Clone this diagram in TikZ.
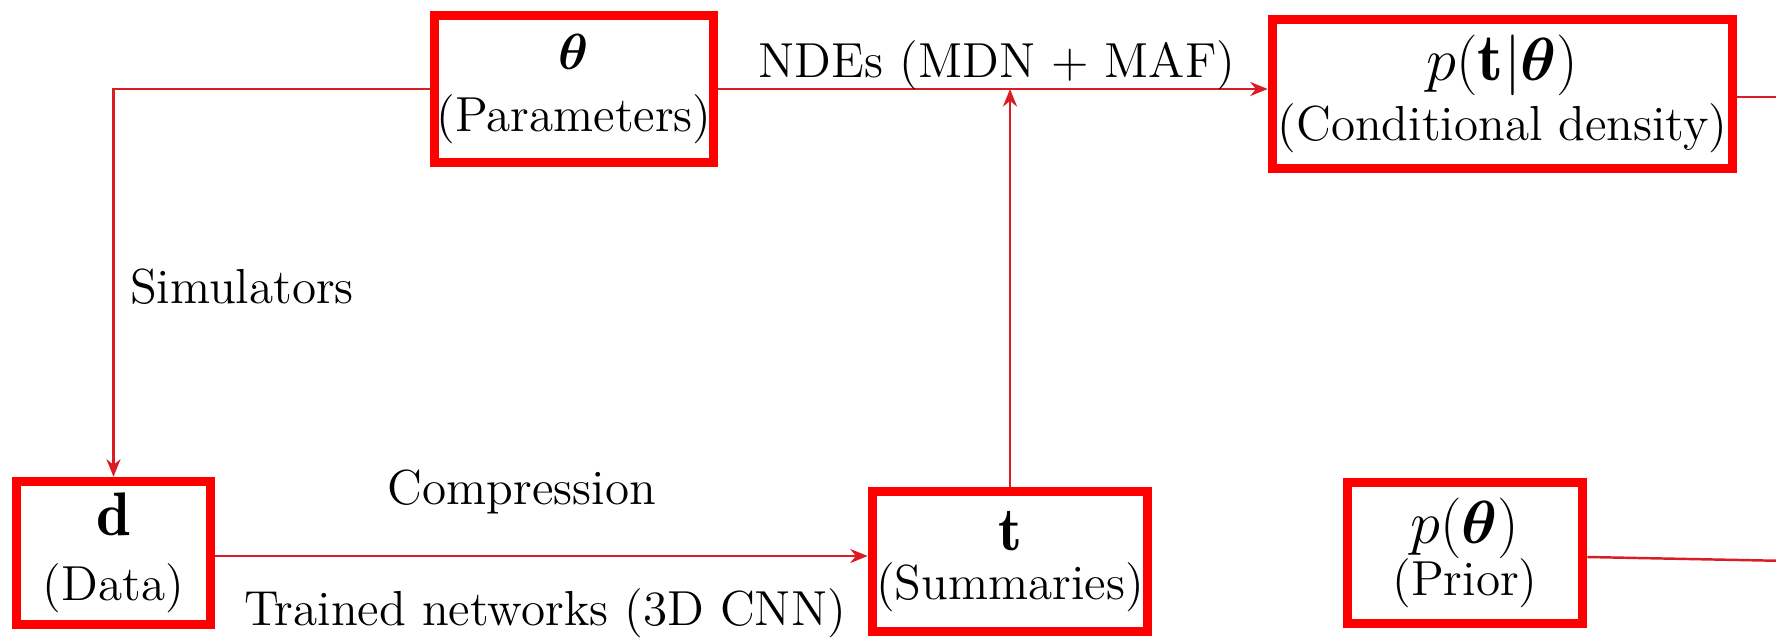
\documentclass[tikz,border=0pt]{standalone}
\usepackage{amsmath}
\usepackage{amssymb}
\usepackage{fontspec}
\usetikzlibrary{shapes,arrows.meta,positioning}

\definecolor{boxred}{RGB}{255,0,0}
\definecolor{linered}{RGB}{218,28,36}

% text font of all nodes, lines may sit close together
\newcommand{\nodefont}{\fontsize{14}{16.5}\selectfont\lineskiplimit=-20pt\relax}
% larger symbol on the first line of a box
\newcommand{\boxsym}[2][19]{{\fontsize{#1}{20}\selectfont$#2$}}

\begin{document}
\begin{tikzpicture}[
    every node/.style={font=\nodefont},
    block/.style={draw=boxred, line width=0.095cm, rectangle, align=center, inner sep=0pt},
    flow/.style={draw=linered, line width=0.7pt},
    arr/.style={flow, -{Stealth[length=5pt, width=4pt]}}
]
        \clip (0,0) rectangle (17.76,6.37);
        \useasboundingbox (0,0) rectangle (17.76,6.37);

        % Boxes
        \node[block, minimum width=2.79cm, minimum height=1.47cm] at (5.74,5.48) (theta) {\boxsym[15.5]{\boldsymbol{\theta}}\\[1pt](Parameters)};
        \node[block, minimum width=4.60cm, minimum height=1.49cm] at (15.025,5.43) (cond) {\boxsym{p(\mathbf{t}|\boldsymbol{\theta})}\\[0.5pt](Conditional density)};
        \node[block, minimum width=1.94cm, minimum height=1.43cm] at (1.135,0.84) (data) {\boxsym[17.5]{\mathbf{d}}\\[2pt](Data)};
        \node[block, minimum width=2.75cm, minimum height=1.40cm] at (10.10,0.755) (summ) {\boxsym[17.5]{\mathbf{t}}\\[-2.5pt](Summaries)};
        \node[block, minimum width=2.35cm, minimum height=1.41cm] at (14.65,0.84) (prior) {\boxsym{p(\boldsymbol{\theta})}\\[-1.5pt](Prior)};

        % Lines leaving to the right
        \coordinate (condout) at (17.9,5.40);
        \coordinate (priorout) at (17.9,0.76);

        % Connectors
        \draw[arr] (theta.west) -| (data.north);
        \draw[arr] (theta.east) -- (theta.east -| cond.west);
        \draw[arr] (summ.north) -- (summ.north |- theta.east);
        \draw[arr] ([yshift=-0.03cm]data.east) -- ([yshift=-0.03cm]data.east -| summ.west);
        \draw[flow] ([yshift=-0.04cm]prior.east) -- (priorout);
        \draw[flow] (cond.east |- condout) -- (condout);

        % Labels
        \node at (9.97,5.72) (ndes) {NDEs (MDN + MAF)};
        \node at (2.42,3.50) (sims) {Simulators};
        \node at (5.22,1.45) (comp) {Compression};
        \node at (5.45,0.24) (train) {Trained networks (3D CNN)};
    \end{tikzpicture}
\end{document}
